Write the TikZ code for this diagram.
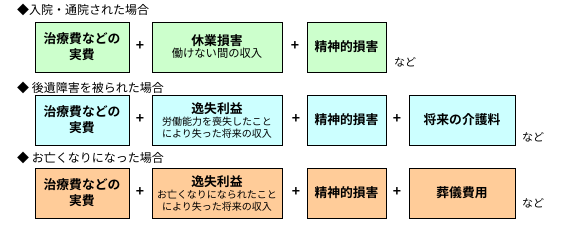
\documentclass[tikz,border=0pt]{standalone}
\usepackage{fontspec}
\setmainfont{Noto Sans CJK JP}[BoldFont={Noto Sans CJK JP Bold}]
\definecolor{pgreen}{HTML}{CCFFCC}
\definecolor{pcyan}{HTML}{CCFFFF}
\definecolor{ppeach}{HTML}{FFCC99}
\begin{document}
\begin{tikzpicture}[x=1pt,y=-1pt,
  box/.style={draw=black,line width=0.9pt,inner sep=0pt,align=center,minimum height=50pt},
  wA/.style={minimum width=94pt},
  wB/.style={minimum width=130pt},
  wC/.style={minimum width=79pt},
  wD/.style={minimum width=106pt},
  big/.style={font=\fontsize{12.8}{16}\selectfont\bfseries},
  plus/.style={font=\fontsize{14}{14}\selectfont\bfseries,inner sep=0pt},
  title/.style={font=\fontsize{12}{12}\selectfont,anchor=west,inner sep=0pt},
  etc/.style={font=\fontsize{11}{12}\selectfont,inner sep=0pt}]
\useasboundingbox (0,0) rectangle (574,228);
% row 1
\node[title] (t1) at (17,10) {◆入院・通院された場合};
\node[box,wA,big,fill=pgreen] (b11) at (82,47) {治療費などの\\実費};
\node[plus] (p11) at (140,46) {+};
\node[box,wB,fill=pgreen] (b12) at (217,47) {{\fontsize{12.8}{16}\selectfont\bfseries 休業損害}\\{\fontsize{11.3}{14}\selectfont 働けない間の収入}};
\node[plus] (p12) at (295,46) {+};
\node[box,wC,big,fill=pgreen] (b13) at (346.5,47) {精神的損害};
\node[etc] (e1) at (405,62) {など};
% row 2
\node[title] (t2) at (17,88) {◆ 後遺障害を被られた場合};
\node[box,wA,big,fill=pcyan] (b21) at (82,120) {治療費などの\\実費};
\node[plus] (p21) at (140,119) {+};
\node[box,wB,fill=pcyan] (b22) at (217,120) {{\fontsize{12.8}{14}\selectfont\bfseries 逸失利益}\\{\fontsize{10}{16}\selectfont 労働能力を喪失したこと}\\{\fontsize{10}{15}\selectfont により失った将来の収入}};
\node[plus] (p22) at (296,119) {+};
\node[box,wC,big,fill=pcyan] (b23) at (346.5,120) {精神的損害};
\node[plus] (p23) at (397,119) {+};
\node[box,wD,big,fill=pcyan] (b24) at (462,120) {将来の介護料};
\node[etc] (e2) at (533,137) {など};
% row 3
\node[title] (t3) at (17,158) {◆ お亡くなりになった場合};
\node[box,wA,big,fill=ppeach] (b31) at (82,193) {治療費などの\\実費};
\node[plus] (p31) at (140,192) {+};
\node[box,wB,fill=ppeach] (b32) at (217,193) {{\fontsize{12.8}{14}\selectfont\bfseries 逸失利益}\\{\fontsize{10}{16}\selectfont お亡くなりになられたこと}\\{\fontsize{10}{15}\selectfont により失った将来の収入}};
\node[plus] (p32) at (296,192) {+};
\node[box,wC,big,fill=ppeach] (b33) at (346.5,193) {精神的損害};
\node[plus] (p33) at (397,192) {+};
\node[box,wD,big,fill=ppeach] (b34) at (462,193) {葬儀費用};
\node[etc] (e3) at (533,203) {など};
\end{tikzpicture}
\end{document}
